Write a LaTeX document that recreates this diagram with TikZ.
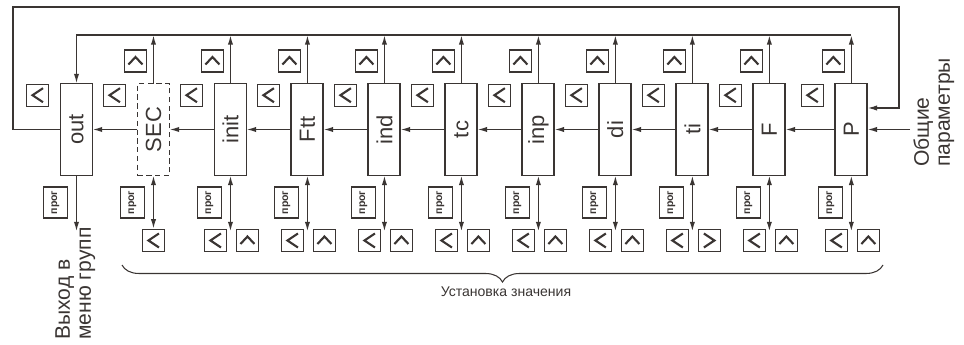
\documentclass[tikz,border=0pt]{standalone}
\usepackage{fontspec}
\setmainfont{Liberation Sans}
\usetikzlibrary{positioning}
\usetikzlibrary{calc}
\usetikzlibrary{arrows.meta}
\usetikzlibrary{decorations.pathreplacing}
\definecolor{ink}{RGB}{58,53,51}

\tikzset{
  blk/.style={draw=ink, line width=1.1pt, minimum width=0.64cm, minimum height=1.84cm,
    inner sep=0pt, outer sep=0pt, text=ink, font=\fontsize{12.5}{14}\selectfont},
  arr/.style={draw=ink, line width=0.85pt, -{Latex[length=5.5pt,width=3pt]}},
  dbl/.style={draw=ink, line width=0.85pt, {Latex[length=5.5pt,width=3pt]}-{Latex[length=5.5pt,width=3pt]}},
  key/.style={draw=ink, line width=0.7pt, minimum size=0.44cm, inner sep=0pt},
  chev/.style={draw=ink, line width=1.2pt, line join=miter},
  kup/.style={key, path picture={\draw[chev, shift={(path picture bounding box.center)}]
    (-0.14cm,-0.07cm) -- (0cm,0.08cm) -- (0.14cm,-0.07cm);}},
  kleft/.style={key, path picture={\draw[chev, shift={(path picture bounding box.center)}]
    (0.11cm,0.14cm) -- (-0.1cm,0cm) -- (0.11cm,-0.14cm);}},
  kright/.style={key, path picture={\draw[chev, shift={(path picture bounding box.center)}]
    (-0.11cm,0.14cm) -- (0.1cm,0cm) -- (-0.11cm,-0.14cm);}},
  prog/.style={draw=ink, line width=0.6pt, minimum width=0.48cm, minimum height=0.62cm,
    inner sep=0pt, text=ink, font=\fontsize{6}{7}\selectfont\bfseries},
  lbl/.style={rotate=90, anchor=north west, align=left, inner sep=0pt, text=ink,
    font=\fontsize{12}{12}\selectfont},
}

\begin{document}
\begin{tikzpicture}[x=0.02cm, y=0.02cm, node distance=0.9cm]
    \useasboundingbox (0,0) rectangle (964,345);

    % Blocchi dei parametri
    \node[blk] (out) at (76.5,215.5) {\rotatebox{90}{out}};
    \node[blk, line width=0.8pt, dash pattern=on 3pt off 2pt, right=of out] (sec) {\rotatebox{90}{SEC}};
    \node[blk, right=of sec] (init) {\rotatebox{90}{init}};
    \node[blk, right=of init] (ftt) {\rotatebox{90}{Ftt}};
    \node[blk, right=of ftt] (ind) {\rotatebox{90}{ind}};
    \node[blk, right=of ind] (tc) {\rotatebox{90}{tc}};
    \node[blk, right=of tc] (inp) {\rotatebox{90}{inp}};
    \node[blk, right=of inp] (di) {\rotatebox{90}{di}};
    \node[blk, right=of di] (ti) {\rotatebox{90}{ti}};
    \node[blk, right=of ti] (f) {\rotatebox{90}{F}};
    \node[blk, right=1cm of f] (p) {\rotatebox{90}{P}};

    % Punti d'appoggio delle linee esterne
    \coordinate (tl) at (0,310);
    \coordinate (lt) at (13,338);
    \coordinate (rt) at (899,338);
    \coordinate (pin) at (0,237);
    \coordinate (in) at (910,215.5);
    \coordinate (exit) at ($(out.south)+(0,-56)$);

    \draw[arr] (p.north |- tl) -| (out.north);
    \draw[arr] (out.west) -| (lt) -- (rt) |- (p.east |- pin);
    \draw[arr] (in) -- (p.east);
    \draw[arr] (out.south) -- (exit);

    % Catena orizzontale e frecce verso l'alto
    \foreach \b/\a in {sec/out,init/sec,ftt/init,ind/ftt,tc/ind,inp/tc,di/inp,ti/di,f/ti,p/f} {
      \draw[arr] (\b.west) -- (\a.east);
      \draw[arr] (\b.north) -- (\b.north |- tl);
      \node[kup] (\b-ku) at ($(\b.north)+(-18,22.5)$) {};
    }

    \foreach \b in {out,sec,init,ftt,ind,tc,inp,di,ti,f,p} {
      \node[kleft] (\b-kl) at ($(\b.north)+(-39,-11.7)$) {};
      \node[prog] (\b-pr) at ($(\b.south)+(-21,-27)$) {\rotatebox{90}{прог}};
    }

    % Tasti in basso
    \node[kleft] (sec-bl) at ($(sec.south)+(0,-65)$) {};
    \draw[dbl] (sec.south) -- (sec-bl.north);
    \foreach \b/\k in {init/kup,ftt/kup,ind/kup,tc/kup,inp/kup,di/kup,ti/kright,f/kup,p/kup} {
      \node[kleft] (\b-bl) at ($(\b.south)+(-15,-65)$) {};
      \node[\k] (\b-br) at ($(\b.south)+(17,-65)$) {};
      \coordinate (\b-end) at ($(\b.south)+(0,-56)$);
      \draw[dbl] (\b.south) -- (\b-end);
    }

    % Scritte
    \node[lbl] (exittxt) at (55,5) {Выход в\\меню групп};
    \node[lbl] (gentxt) at (913,178) {Общие\\параметры};

    \coordinate (bl) at (122,80);
    \coordinate (br) at (883,80);
    \draw[ink, line width=0.6pt, decorate, decoration={brace, mirror, amplitude=0.34cm}] (bl) -- (br);
    \node[text=ink, font=\fontsize{8}{9}\selectfont] (val) at (506,53) {Установка значения};
\end{tikzpicture}
\end{document}
